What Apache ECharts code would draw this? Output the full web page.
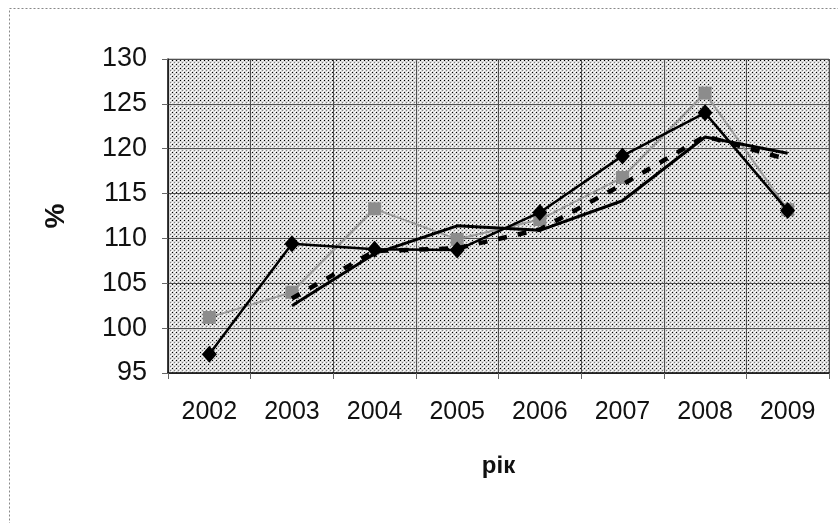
<!DOCTYPE html>
<html>
<head>
<meta charset="utf-8">
<script src="https://cdn.jsdelivr.net/npm/echarts@6/dist/echarts.min.js"></script>
<style>
  html, body { margin: 0; padding: 0; background: #fff; }
  #chart { width: 838px; height: 523px; }
</style>
</head>
<body>
<div id="chart"></div>
<script>
// values
const years = ['2002', '2003', '2004', '2005', '2006', '2007', '2008', '2009']
const diamondValues = [97.1, 109.4, 108.8, 108.7, 112.9, 119.2, 124.0, 113.1]
const squareValues = [101.2, 104.0, 113.3, 109.9, 112.1, 116.8, 126.2, 113.2]
const solidTrend = [null, 102.5, 108.3, 111.4, 110.9, 114.2, 121.3, 119.5]
const dashedTrend = [null, 103.3, 108.6, 108.9, 111.0, 116.0, 121.4, 118.8]
const yTicks = [95, 130, 5] // min, max, step

// dotted grey fill like the old printout
function makePattern() {
  const c = document.createElement('canvas')
  c.width = 4
  c.height = 4
  const ctx = c.getContext('2d')
  ctx.fillStyle = '#d8d8d8'
  ctx.fillRect(0, 0, 4, 4)
  ctx.fillStyle = '#000'
  ctx.fillRect(0, 0, 1, 1)
  ctx.fillStyle = '#808080'
  ctx.fillRect(2, 2, 1, 1)
  ctx.fillStyle = '#fff'
  ctx.fillRect(2, 0, 1, 1)
  ctx.fillRect(0, 2, 1, 1)
  ctx.fillRect(3, 3, 1, 1)
  return c
}

const font = 'Liberation Sans'
const chart = echarts.init(document.getElementById('chart'), null, { renderer: 'canvas' })

chart.setOption({
  backgroundColor: '#fff',
  animation: false,
  graphic: [{
    type: 'rect',
    shape: { x: 9.5, y: 8.5, width: 1000, height: 1000 },
    style: { fill: 'none', stroke: '#888', lineWidth: 1, lineDash: [2, 2] },
    silent: true
  }],
  grid: {
    left: 168,
    right: 9,
    top: 59,
    bottom: 150,
    show: true,
    backgroundColor: { image: makePattern(), repeat: 'repeat' },
    borderColor: '#999',
    borderWidth: 1
  },
  xAxis: {
    type: 'category',
    data: years,
    boundaryGap: true,
    name: 'рік',
    nameLocation: 'middle',
    nameGap: 81,
    nameTextStyle: { fontFamily: font, fontSize: 24, fontWeight: 'bold', color: '#111' },
    axisLine: { lineStyle: { color: '#111', width: 1.5 } },
    axisTick: { show: true, length: 6, lineStyle: { color: '#666' } },
    axisLabel: { fontFamily: font, fontSize: 25, color: '#111', margin: 27 },
    splitLine: { show: true, interval: 0, lineStyle: { color: '#505050', width: 1 } }
  },
  yAxis: {
    type: 'value',
    min: yTicks[0],
    max: yTicks[1],
    interval: yTicks[2],
    name: '%',
    nameLocation: 'middle',
    nameGap: 98,
    nameRotate: 90,
    nameTextStyle: { fontFamily: font, fontSize: 28, fontWeight: 'bold', color: '#111' },
    axisLine: { show: true, lineStyle: { color: '#111', width: 1.5 } },
    axisTick: { show: true, length: 6, lineStyle: { color: '#666' } },
    axisLabel: { fontFamily: font, fontSize: 27, color: '#111', margin: 21 },
    splitLine: { show: true, lineStyle: { color: '#505050', width: 1 } }
  },
  series: [
    {
      type: 'line',
      data: squareValues,
      symbol: 'rect',
      symbolSize: 13,
      lineStyle: { color: '#9a9a9a', width: 2 },
      itemStyle: { color: '#8c8c8c' },
      z: 2
    },
    {
      type: 'line',
      data: solidTrend,
      symbol: 'none',
      lineStyle: { color: '#000', width: 3 },
      z: 3
    },
    {
      type: 'line',
      data: dashedTrend,
      symbol: 'none',
      lineStyle: { color: '#000', width: 4.5, type: [9, 11] },
      z: 4
    },
    {
      type: 'line',
      data: diamondValues,
      symbol: 'diamond',
      symbolSize: [15, 17],
      lineStyle: { color: '#000', width: 2.5 },
      itemStyle: { color: '#000' },
      z: 5
    }
  ]
})
</script>
</body>
</html>
